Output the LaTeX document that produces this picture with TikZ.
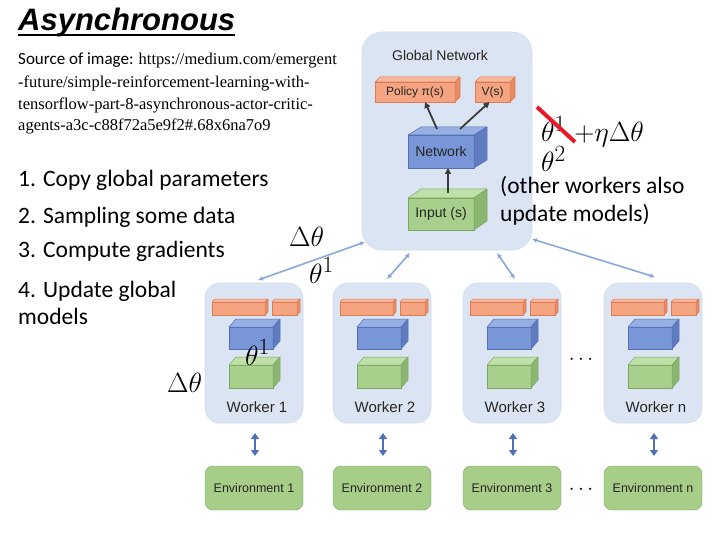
\documentclass[tikz,border=0pt]{standalone}
\usepackage{fontspec}
\newfontfamily\arialf{Liberation Sans}
\newfontfamily\calf{Carlito}
\newfontfamily\timesf{Liberation Serif}
\usetikzlibrary{calc,arrows.meta}
\definecolor{panelF}{RGB}{219,228,242}
\definecolor{panelE}{RGB}{210,220,238}
\definecolor{orF}{RGB}{244,164,128}
\definecolor{orT}{RGB}{248,186,156}
\definecolor{orS}{RGB}{230,138,100}
\definecolor{orE}{RGB}{222,122,84}
\definecolor{blF}{RGB}{120,150,216}
\definecolor{blT}{RGB}{150,176,228}
\definecolor{blS}{RGB}{96,124,192}
\definecolor{blE}{RGB}{84,112,182}
\definecolor{grF}{RGB}{168,208,140}
\definecolor{grT}{RGB}{192,224,170}
\definecolor{grS}{RGB}{138,182,112}
\definecolor{grE}{RGB}{120,168,96}
\definecolor{envF}{RGB}{166,206,136}
\definecolor{envE}{RGB}{118,168,92}
\definecolor{gArrow}{RGB}{140,168,216}
\definecolor{eArrow}{RGB}{78,112,184}
\definecolor{dArrow}{RGB}{60,60,60}
\definecolor{strikeC}{RGB}{232,24,40}
% #1 name, #2 x, #3 y of bottom, #4 w, #5 h, #6 dx, #7 dy, #8 colour prefix, #9 text
\newcommand\cuboid[9]{%
  \node[cubeface, draw=#8E, fill=#8F, minimum width=#4pt, minimum height=#5pt, anchor=south west] (#1) at (#2,#3) {#9};
  \filldraw[draw=#8E, fill=#8T, line width=0.5pt, line join=round] (#1.north west) -- ++(#6,-#7) -- ($(#1.north east)+(#6,-#7)$) -- (#1.north east) -- cycle;
  \filldraw[draw=#8E, fill=#8S, line width=0.5pt, line join=round] (#1.north east) -- ++(#6,-#7) -- ($(#1.south east)+(#6,-#7)$) -- (#1.south east) -- cycle;
}
\begin{document}
\begin{tikzpicture}[x=1pt,y=-1pt,
  panel/.style={draw=panelE, fill=panelF, line width=0.6pt, rounded corners=15pt, inner sep=0, outer sep=0},
  cubeface/.style={inner sep=0, outer sep=0, line width=0.5pt, font=\arialf\fontsize{14}{16}\selectfont, text=black!85},
  envbox/.style={draw=envE, fill=envF, rounded corners=8pt, minimum width=98pt, minimum height=44pt, inner sep=0, outer sep=0, font=\arialf\fontsize{12.5}{14}\selectfont, text=black!85},
  wlabel/.style={font=\arialf\fontsize{15}{17}\selectfont, text=black!85},
  steptext/.style={anchor=base west, inner sep=0, font=\calf\fontsize{23.5}{28}\selectfont},
  srctext/.style={anchor=base west, inner sep=0, font=\timesf\fontsize{16.5}{20}\selectfont},
  mathlbl/.style={anchor=base west, inner sep=0, scale=1.12, font=\fontsize{24.88}{30}\selectfont},
  dotslbl/.style={font=\fontsize{20.74}{24}\selectfont},
  garrow/.style={draw=gArrow, line width=1.6pt, {Latex[length=5pt,width=5pt]}-{Latex[length=5pt,width=5pt]}},
  envarrow/.style={draw=eArrow, line width=2.2pt, {Triangle[length=6pt,width=8pt]}-{Triangle[length=6pt,width=8pt]}},
  darkarrow/.style={draw=dArrow, line width=1.8pt, -{Triangle[length=6pt,width=6pt]}},
  strikeline/.style={draw=strikeC, line width=4pt}
]
\useasboundingbox (0,0) rectangle (720,540);
\fill[white] (0,0) rectangle (720,540);

% title and source
\node[anchor=base west, inner sep=0, font=\arialf\bfseries\itshape\fontsize{31}{36}\selectfont] (title) at (18,31) {Asynchronous};
\draw[line width=2.5pt] ([yshift=-4pt]title.base west) -- ([yshift=-4pt]title.base east);
\node[srctext] (src1) at (18,65) {{\calf\fontsize{17}{20}\selectfont Source of image: }https://medium.com/emergent};
\node[srctext] (src2) at (18,88) {-future/simple-reinforcement-learning-with-};
\node[srctext] (src3) at (18,110) {tensorflow-part-8-asynchronous-actor-critic-};
\node[srctext] (src4) at (18,131) {agents-a3c-c88f72a5e9f2\#.68x6na7o9};

% steps
\node[steptext] (s1) at (18,187) {1. Copy global parameters};
\node[steptext] (s2) at (18,223) {2. Sampling some data};
\node[steptext] (s3) at (18,258) {3. Compute gradients};
\node[steptext] (s4) at (18,297) {4. Update global};
\node[steptext] (s4b) at (18,324) {models};

% global network
\node[panel, rounded corners=20pt, minimum width=170pt, minimum height=218pt, anchor=north west] (global) at (362,32) {};
\node[font=\arialf\fontsize{14}{16}\selectfont, text=black!85] (gtitle) at (440,55) {Global Network};
\cuboid{pol}{375}{102}{80}{20}{5}{5}{or}{\fontsize{12}{14}\selectfont Policy π(s)}
\cuboid{vs}{475}{102}{35}{20}{5}{5}{or}{\fontsize{12}{14}\selectfont V(s)}
\cuboid{net}{408}{168}{66}{33}{13}{8}{bl}{Network}
\cuboid{inp}{408}{230}{66}{32}{13}{9}{gr}{Input (s)}
\draw[darkarrow] ($(net.north)+(-4,-6)$) -- ($(pol.south)+(10,0)$);
\draw[darkarrow] ($(net.north)+(19,-6)$) -- ($(vs.south)+(-3,0)$);
\draw[darkarrow] ($(inp.north)+(7,-5)$) -- ($(net.south)+(7,0)$);

% workers and environments
\foreach \lx/\wn [count=\ii] in {205/1,333/2,463/3,604/n}{
  \node[panel, minimum width=98pt, minimum height=140pt, anchor=north west] (w\ii) at (\lx,283) {};
  \cuboid{wob\ii}{\lx+7}{315}{53}{13}{3}{3}{or}{}
  \cuboid{wos\ii}{\lx+67}{315}{25}{13}{3}{3}{or}{}
  \cuboid{wnet\ii}{\lx+24}{349}{44}{22}{7}{8}{bl}{}
  \cuboid{winp\ii}{\lx+24}{388}{44}{23}{7}{8}{gr}{}
  \node[wlabel] (wl\ii) at (\lx+52,407) {Worker \wn};
  \node[envbox, anchor=north west] (e\ii) at (\lx,466) {Environment \wn};
  \draw[envarrow] ($(w\ii.south)+(1,10)$) -- ($(e\ii.north)+(1,-10)$);
}
\node[dotslbl] (dots1) at (581,360) {$\cdots$};
\node[dotslbl] (dots2) at (581,490) {$\cdots$};

% global <-> worker arrows
\draw[garrow] ($(global.south west)+(3,-8)$) -- ($(w1.north)+(4,-3)$);
\draw[garrow] ($(global.south)+(-37,3)$) -- ($(w2.north)+(5,-4)$);
\draw[garrow] ($(global.south)+(50,3)$) -- ($(w3.north)+(3,-4)$);
\draw[garrow] ($(global.south east)+(0,-11)$) -- ($(w4.north)+(2,-6)$);

% math labels
\node[mathlbl] (dta) at (289,247) {$\Delta\theta$};
\node[mathlbl] (tha) at (309,283) {$\theta^1$};
\node[mathlbl] (thw) at (245,365) {$\theta^1$};
\node[mathlbl] (dtw) at (167,392) {$\Delta\theta$};
\node[mathlbl] (upd) at (541,142) {$\theta^1\ {+}\eta\Delta\theta$};
\node[mathlbl] (th2) at (541,172) {$\theta^2$};
\draw[strikeline] (537,107) -- (575,142);

% right note
\node[steptext] (n1) at (500,194) {(other workers also};
\node[steptext] (n2) at (500,222) {update models)};
\end{tikzpicture}
\end{document}
